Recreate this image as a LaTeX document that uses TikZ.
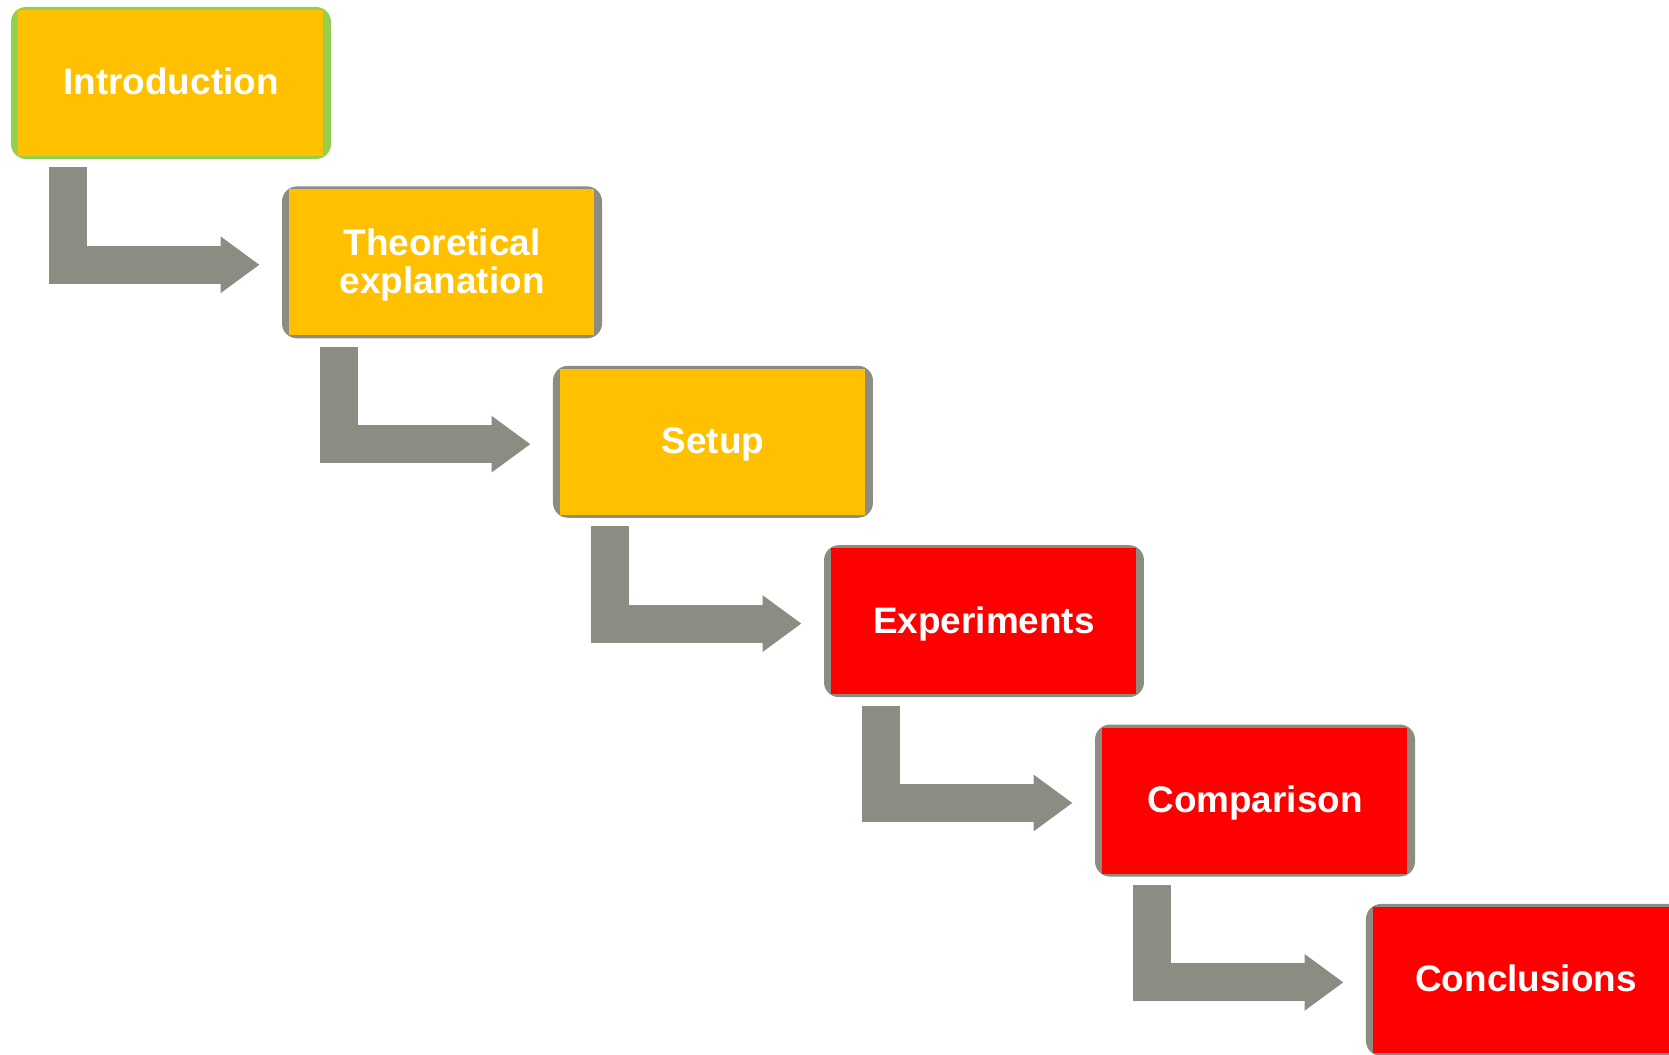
\documentclass[tikz,border=0pt]{standalone}
\usepackage{fontspec}
\setsansfont{Liberation Sans}
\usetikzlibrary{arrows.meta,positioning}

\definecolor{stageyellow}{HTML}{FFC000}
\definecolor{stagered}{HTML}{FF0000}
\definecolor{stagegreen}{HTML}{92D050}
\definecolor{stagegray}{HTML}{8C8C83}

\begin{document}
\begin{tikzpicture}[x=1cm,y=1cm]
\tikzset{
  stage/.style={rectangle,rounded corners=0.25cm,fill=stagegray,
    minimum width=5.333cm,minimum height=2.533cm,inner sep=0pt,
    text height=0.45cm,text depth=0.05cm,
    text=white,align=center,font=\sffamily\bfseries\fontsize{17.5}{18}\selectfont,
    path picture={\fill[sharp corners,#1]
      ([xshift=0.117cm,yshift=0.05cm]path picture bounding box.south west) rectangle
      ([xshift=-0.133cm,yshift=-0.05cm]path picture bounding box.north east);}},
  step arrow/.style={draw=stagegray,line width=0.633cm,line join=miter,
    -{Triangle[width=0.9cm,length=0.65cm]}}
}
\useasboundingbox (0,0) rectangle (27.817,-17.567);
\node[stage=stageyellow,fill=stagegreen] (intro) at (2.850,-1.383) {Introduction};
\node[stage=stageyellow,text height=1.083cm] (theory) at (7.367,-4.373) {Theoretical\\explanation};
\node[stage=stageyellow] (setup) at (11.883,-7.363) {Setup};
\node[stage=stagered] (experiments) at (16.400,-10.353) {Experiments};
\node[stage=stagered] (comparison) at (20.917,-13.343) {Comparison};
\node[stage=stagered] (conclusions) at (25.433,-16.333) {Conclusions};
% bent arrows from each stage down to the next one
\draw[step arrow] ([xshift=0.95cm,yshift=-0.133cm]intro.south west) |- ([xshift=-0.367cm,yshift=-0.04cm]theory.west);
\draw[step arrow] ([xshift=0.95cm,yshift=-0.133cm]theory.south west) |- ([xshift=-0.367cm,yshift=-0.04cm]setup.west);
\draw[step arrow] ([xshift=0.95cm,yshift=-0.133cm]setup.south west) |- ([xshift=-0.367cm,yshift=-0.04cm]experiments.west);
\draw[step arrow] ([xshift=0.95cm,yshift=-0.133cm]experiments.south west) |- ([xshift=-0.367cm,yshift=-0.04cm]comparison.west);
\draw[step arrow] ([xshift=0.95cm,yshift=-0.133cm]comparison.south west) |- ([xshift=-0.367cm,yshift=-0.04cm]conclusions.west);
\end{tikzpicture}
\end{document}
